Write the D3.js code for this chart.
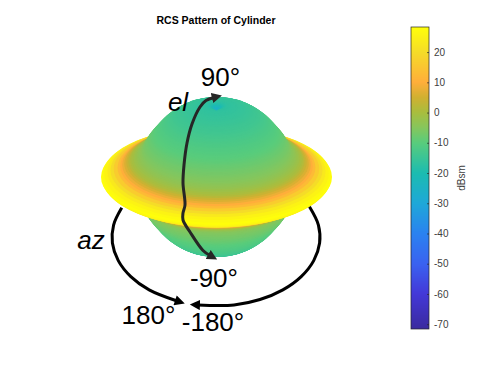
<!DOCTYPE html>
<html>
<head>
<meta charset="utf-8">
<script src="https://cdn.jsdelivr.net/npm/d3@7"></script>
<style>
    html, body { margin: 0; padding: 0; background: #fff; }
    svg { display: block; font-family: "Liberation Sans", Arial, sans-serif; }
</style>
</head>
<body>
<svg id="chart" width="493" height="370"></svg>
<script>
// Data
const elevationDeg = [0, 1, 2, 3, 4, 5, 6, 7, 8, 9, 10, 11, 12, 13, 14, 15, 16, 17, 18, 19, 20, 21, 22, 23, 24, 25, 26, 27, 28, 29, 30,
    31, 32, 33, 34, 35, 36, 37, 38, 39, 40, 41, 42, 43, 44, 45, 46, 47, 48, 49, 50, 51, 52, 53, 54, 55, 56, 57, 58, 59, 60,
    61, 62, 63, 64, 65, 66, 67, 68, 69, 70, 71, 72, 73, 74, 75, 76, 77, 78, 79, 80, 81, 82, 83, 84, 85, 86, 87, 88, 89, 90];
const rcsDb = [28, 27, 25.5, 23, 20, 16.5, 12.5, 10, 8, 6, 4, 2, 0.5, -0.5, -1.5, -2.2, -3, -3.5, -4, -4.5, -5, -5.3, -5.6, -5.9, -6.2, -6.5, -6.8, -7, -7.3, -7.6, -7.9,
    -8.1, -8.4, -8.7, -9, -9.3, -9.6, -9.8, -10, -10.2, -10.4, -10.6, -10.8, -11, -11.2, -11.4, -11.6, -11.8, -12, -12.2, -12.4, -12.6, -12.8, -13, -13.2, -13.4, -13.6, -13.8, -14, -14.1, -14.2,
    -14.4, -14.5, -14.7, -14.8, -15, -15.1, -15.2, -15.4, -15.5, -15.6, -15.7, -15.8, -15.9, -16, -16.1, -16.2, -16.3, -16.4, -16.5, -16.6, -16.8, -17, -17.5, -18, -19, -20.5, -22.5, -25, -28, -30];

const colorTicks = [20, 10, 0, -10, -20, -30, -40, -50, -60, -70];
const colorDomain = [-71.6, -60, -50, -40, -30, -20, -10, -5, 0, 5, 10, 20, 28.3];
const colorStops = ['#3a2a9e', '#4338d8', '#3a62f0', '#2a82f0', '#1ea8d8', '#1cbcb0', '#58cc7c', '#86c65c', '#a8bd3e', '#d0b030', '#ffae3a', '#f5dc28', '#ffff0a'];

// Radius of the pattern for a given level
const radiusDomain = [-30, -15, -10, -5, 0, 10, 14, 22, 28];
const radiusRange = [73, 80, 78.5, 80, 88, 97, 101, 108, 115.5];

// Azimuth ring drawn as arcs, angles read clockwise from the right
const azRing = { cx: 216, cy: 237, rx: 104, ry: 69 };
const azLeftDeg = [205, 190, 175, 160, 145, 130, 112];
const azRightDeg = [-26, -10, 5, 20, 35, 50, 65, 80, 100];

// Elevation arrow
const elPath = [[214, 97.5], [206, 100.5], [200, 107], [192, 124], [187, 143], [184, 165], [183, 183], [185, 205], [183, 213], [183, 220], [190, 232], [203, 250.5], [210, 255.5]];

// Constants
const CX = 216.5;
const CY = 177;
const TILT = 24.5 * Math.PI / 180;
const BAR = { x: 411, width: 18, top: 27, bottom: 329 };
const TEXT_DARK = '#262626';
const TICK_GREY = '#404040';

const svg = d3.select('#chart');

const colorScale = d3.scaleLinear().domain(colorDomain).range(colorStops).clamp(true);
const radiusScale = d3.scaleLinear().domain(radiusDomain).range(radiusRange);
const barScale = d3.scaleLinear().domain([-71.6, 28.3]).range([BAR.bottom, BAR.top]);

// Surface: stack of latitude rings, painted from the south pole upwards
const rows = [];
elevationDeg.forEach((el, i) => { if (el > 0) rows.unshift({ el: -el, db: rcsDb[i] }); });
elevationDeg.forEach((el, i) => rows.push({ el: el, db: rcsDb[i] }));

const toRad = (d) => d * Math.PI / 180;

svg.append('g')
    .attr('class', 'surface')
    .style('filter', 'blur(0.5px)')
    .selectAll('ellipse')
    .data(rows)
    .enter().append('ellipse')
        .attr('cx', CX)
        .attr('cy', (d) => CY - radiusScale(d.db) * Math.sin(toRad(d.el)) * Math.cos(TILT))
        .attr('rx', (d) => radiusScale(d.db) * Math.cos(toRad(d.el)))
        .attr('ry', (d) => radiusScale(d.db) * Math.cos(toRad(d.el)) * Math.sin(TILT))
        .attr('fill', (d) => colorScale(d.db));

// Arrow heads
const defs = svg.append('defs');
function addMarker(id, color) {
    defs.append('marker')
        .attr('id', id)
        .attr('viewBox', '0 0 10 10')
        .attr('refX', 2)
        .attr('refY', 5)
        .attr('markerWidth', 3.6)
        .attr('markerHeight', 3.4)
        .attr('orient', 'auto-start-reverse')
        .append('path')
            .attr('d', 'M0,0L10,5L0,10Z')
            .attr('fill', color);
}
addMarker('head-dark', TEXT_DARK);
addMarker('head-black', '#000');

const arrowLine = d3.line().curve(d3.curveCatmullRom.alpha(0.5));
const azPoint = (deg) => [azRing.cx + azRing.rx * Math.cos(toRad(deg)), azRing.cy + azRing.ry * Math.sin(toRad(deg))];

// Elevation arrow has a head on both ends
svg.append('path')
    .attr('d', arrowLine(elPath))
    .attr('fill', 'none')
    .attr('stroke', TEXT_DARK)
    .attr('stroke-width', 3)
    .attr('marker-start', 'url(#head-dark)')
    .attr('marker-end', 'url(#head-dark)');

[azLeftDeg, azRightDeg].forEach((degs) => {
    svg.append('path')
        .attr('d', arrowLine(degs.map(azPoint)))
        .attr('fill', 'none')
        .attr('stroke', '#000')
        .attr('stroke-width', 3)
        .attr('marker-end', 'url(#head-black)');
});

// Annotation labels
const labels = [
    { text: '90°', x: 220.5, y: 86, anchor: 'middle' },
    { text: 'el', x: 178, y: 111, anchor: 'middle', italic: true },
    { text: '-90°', x: 214, y: 287, anchor: 'middle' },
    { text: 'az', x: 91, y: 249, anchor: 'middle', italic: true },
    { text: '180°', x: 148.5, y: 324, anchor: 'middle' },
    { text: '-180°', x: 213, y: 331, anchor: 'middle' }
];
svg.append('g')
    .attr('class', 'labels')
    .selectAll('text')
    .data(labels)
    .enter().append('text')
        .attr('x', (d) => d.x)
        .attr('y', (d) => d.y)
        .attr('text-anchor', (d) => d.anchor)
        .attr('font-size', 26)
        .attr('font-style', (d) => d.italic ? 'italic' : null)
        .attr('fill', '#000')
        .text((d) => d.text);

// Title
svg.append('text')
    .attr('x', 216)
    .attr('y', 24)
    .attr('text-anchor', 'middle')
    .attr('font-size', 10.5)
    .attr('font-weight', 'bold')
    .attr('fill', '#000')
    .text('RCS Pattern of Cylinder');

// Colorbar
const barCells = d3.range(BAR.top, BAR.bottom);
svg.append('g')
    .attr('class', 'colorbar')
    .selectAll('rect')
    .data(barCells)
    .enter().append('rect')
        .attr('x', BAR.x)
        .attr('y', (d) => d)
        .attr('width', BAR.width)
        .attr('height', (d) => d === BAR.bottom - 1 ? 1 : 1.5)
        .attr('fill', (d) => colorScale(barScale.invert(d + 0.5)));

svg.append('rect')
    .attr('x', BAR.x)
    .attr('y', BAR.top)
    .attr('width', BAR.width)
    .attr('height', BAR.bottom - BAR.top)
    .attr('fill', 'none')
    .attr('stroke', TEXT_DARK)
    .attr('stroke-width', 0.7);

const barAxis = svg.append('g')
    .attr('class', 'bar-axis')
    .attr('transform', 'translate(' + (BAR.x + BAR.width) + ',0)')
    .call(d3.axisRight(barScale).tickValues(colorTicks).tickSize(0).tickPadding(5).tickFormat((d) => String(d)));
barAxis.attr('font-family', null);
barAxis.select('.domain').remove();
barAxis.selectAll('text')
    .attr('font-size', 10)
    .attr('fill', TICK_GREY);
barAxis.selectAll('.tick line')
    .attr('x1', -2)
    .attr('x2', 0)
    .attr('stroke', TEXT_DARK)
    .attr('stroke-width', 0.7);

svg.append('text')
    .attr('transform', 'translate(465,178) rotate(-90)')
    .attr('text-anchor', 'middle')
    .attr('font-size', 10)
    .attr('fill', TICK_GREY)
    .text('dBsm');
</script>
</body>
</html>
